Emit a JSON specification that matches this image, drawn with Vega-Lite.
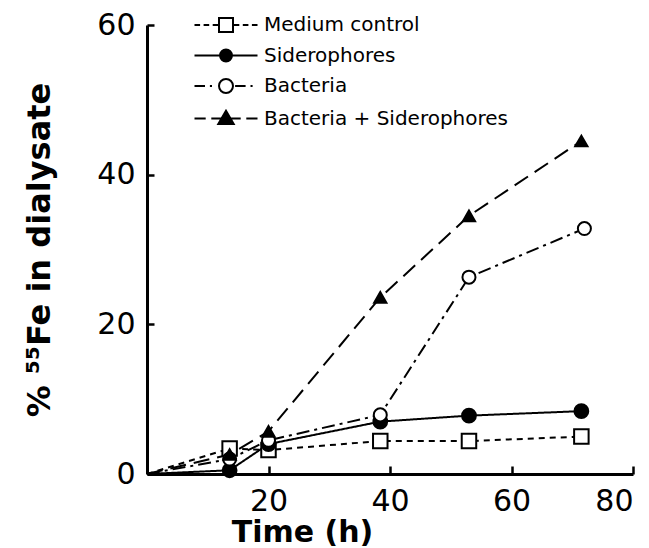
{
  "$schema": "https://vega.github.io/schema/vega-lite/v6.json",
  "width": 486,
  "height": 449,
  "autosize": "none",
  "padding": {"left": 147, "top": 25, "right": 16, "bottom": 74},
  "config": {"view": {"stroke": null}, "font": "DejaVu Sans"},
  "data": {
    "values": [
      {"series": "Medium control", "time": 0, "value": 0},
      {"series": "Medium control", "time": 13.6, "value": 3.4},
      {"series": "Medium control", "time": 20, "value": 3.2},
      {"series": "Medium control", "time": 38.4, "value": 4.4},
      {"series": "Medium control", "time": 53, "value": 4.4},
      {"series": "Medium control", "time": 71.5, "value": 5.0},
      {"series": "Siderophores", "time": 0, "value": 0},
      {"series": "Siderophores", "time": 13.6, "value": 0.5},
      {"series": "Siderophores", "time": 20, "value": 4.0},
      {"series": "Siderophores", "time": 38.4, "value": 7.0},
      {"series": "Siderophores", "time": 53, "value": 7.8},
      {"series": "Siderophores", "time": 71.5, "value": 8.4},
      {"series": "Bacteria", "time": 0, "value": 0},
      {"series": "Bacteria", "time": 13.6, "value": 2.0},
      {"series": "Bacteria", "time": 20, "value": 4.5},
      {"series": "Bacteria", "time": 38.4, "value": 7.9},
      {"series": "Bacteria", "time": 53, "value": 26.3},
      {"series": "Bacteria", "time": 72, "value": 32.8},
      {"series": "Bacteria + Siderophores", "time": 0, "value": 0},
      {"series": "Bacteria + Siderophores", "time": 13.6, "value": 2.6},
      {"series": "Bacteria + Siderophores", "time": 20, "value": 5.7},
      {"series": "Bacteria + Siderophores", "time": 38.4, "value": 23.6},
      {"series": "Bacteria + Siderophores", "time": 53, "value": 34.5},
      {"series": "Bacteria + Siderophores", "time": 71.5, "value": 44.5}
    ]
  },
  "resolve": {"scale": {"shape": "independent", "fill": "independent"}},
  "encoding": {
    "x": {
      "field": "time", "type": "quantitative",
      "scale": {"domain": [0, 80], "nice": false},
      "axis": {
        "title": "Time (h)", "values": [20, 40, 60, 80], "grid": false,
        "domainColor": "black", "domainWidth": 3, "tickColor": "black", "tickWidth": 2.5,
        "tickSize": -8, "labelPadding": 20, "labelFontSize": 30, "labelColor": "black",
        "labelFont": "DejaVu Sans", "titleFont": "DejaVu Sans", "titleFontSize": 30,
        "titleFontWeight": "bold", "titleColor": "black", "titleX": 155, "titlePadding": 1
      }
    },
    "y": {
      "field": "value", "type": "quantitative",
      "scale": {"domain": [0, 60], "nice": false},
      "axis": {
        "title": "% ⁵⁵Fe in dialysate", "values": [0, 20, 40, 60], "grid": false,
        "domainColor": "black", "domainWidth": 3, "tickColor": "black", "tickWidth": 2.5,
        "tickSize": -7, "labelPadding": 19, "labelFontSize": 30, "labelColor": "black",
        "labelFont": "DejaVu Sans", "titleFont": "DejaVu Sans", "titleFontSize": 32,
        "titleFontWeight": "bold", "titleColor": "black", "titlePadding": 40
      }
    }
  },
  "layer": [
    {
      "mark": {"type": "line", "color": "black", "strokeWidth": 2},
      "encoding": {
        "strokeDash": {
          "field": "series", "type": "nominal",
          "scale": {
            "domain": ["Bacteria + Siderophores", "Medium control", "Siderophores", "Bacteria"],
            "range": [[16, 8], [6, 5], [1, 0], [13, 5, 3, 5]]
          },
          "legend": null
        },
        "order": {"field": "time"}
      }
    },
    {
      "transform": [{"filter": "datum.time > 0"}],
      "mark": {"type": "point", "filled": true, "stroke": "black", "strokeWidth": 2, "opacity": 1},
      "encoding": {
        "shape": {
          "field": "series", "type": "nominal",
          "scale": {
            "domain": ["Medium control", "Siderophores", "Bacteria", "Bacteria + Siderophores"],
            "range": ["square", "circle", "circle", "triangle-up"]
          },
          "legend": null
        },
        "fill": {
          "field": "series", "type": "nominal",
          "scale": {
            "domain": ["Medium control", "Siderophores", "Bacteria", "Bacteria + Siderophores"],
            "range": ["white", "black", "white", "black"]
          },
          "legend": null
        },
        "size": {
          "field": "series", "type": "nominal",
          "scale": {
            "domain": ["Medium control", "Siderophores", "Bacteria", "Bacteria + Siderophores"],
            "range": [210, 150, 210, 210]
          },
          "legend": null
        }
      }
    },
    {
      "transform": [{"filter": "datum.time < 0"}],
      "mark": {"type": "point", "filled": true, "stroke": "black", "strokeWidth": 2, "opacity": 1},
      "encoding": {
        "shape": {
          "field": "series", "type": "nominal",
          "scale": {
            "domain": ["Medium control", "Siderophores", "Bacteria", "Bacteria + Siderophores"],
            "range": [
              "M-4.5,0L-3.7,0M-3.2,0L-2.4,0M-1.9,0L-1.1,0M1.1,0L1.9,0M2.4,0L3.2,0M3.7,0L4.5,0M-1,-1L1,-1L1,1L-1,1Z",
              "M-4.5,0L4.5,0M0.85,0A0.85,0.85 0 1,1 -0.85,0A0.85,0.85 0 1,1 0.85,0Z",
              "M-4.5,0L-3,0M-2.3,0L-2,0M1.3,0L2.8,0M3.5,0L3.8,0M1,0A1,1 0 1,1 -1,0A1,1 0 1,1 1,0Z",
              "M-4.5,0L-2.9,0M-2.1,0L2.1,0M2.9,0L4.5,0M0,-1.1L1.1,0.8L-1.1,0.8Z"
            ]
          },
          "legend": {
            "title": null, "orient": "none", "legendX": 45, "legendY": -10,
            "padding": 0, "symbolSize": 196, "symbolOffset": 24, "labelOffset": 28,
            "labelFontSize": 20, "labelFont": "DejaVu Sans", "labelColor": "black",
            "labelLimit": 400, "rowPadding": 9.5, "symbolStrokeWidth": 2,
            "symbolStrokeColor": "black", "symbolFillColor": "white", "symbolOpacity": 1
          }
        },
        "fill": {
          "field": "series", "type": "nominal",
          "scale": {
            "domain": ["Medium control", "Siderophores", "Bacteria", "Bacteria + Siderophores"],
            "range": ["white", "black", "white", "black"]
          }
        }
      }
    }
  ]
}
